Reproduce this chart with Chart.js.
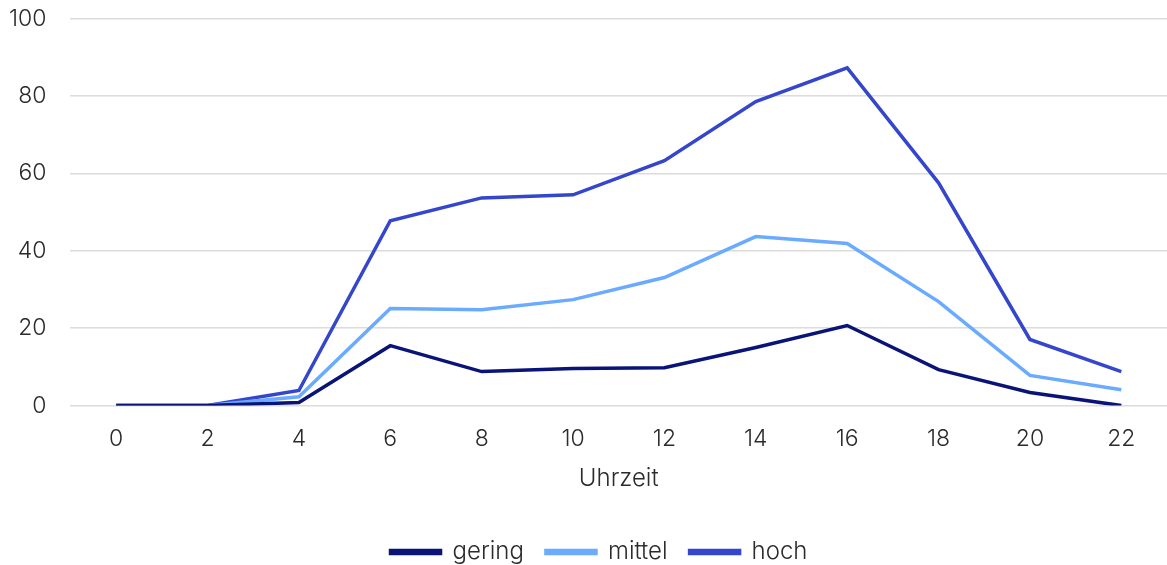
<!DOCTYPE html>
<html>
<head>
<meta charset="utf-8">
<script src="https://cdn.jsdelivr.net/npm/chart.js@4"></script>
<style>
  html, body { margin: 0; padding: 0; background: #fff; overflow: hidden; }
  #Wrap { width: 1167px; height: 584px; position: relative; margin-top: -19px; }
</style>
</head>
<body>
<div id="Wrap"><canvas id="Main_Chart"></canvas></div>
<script>
const Hours = ["0", "2", "4", "6", "8", "10", "12", "14", "16", "18", "20", "22"];
const Gering = [0, 0, 0.8, 15.5, 8.8, 9.6, 9.8, 15.0, 20.7, 9.3, 3.4, 0];
const Mittel = [0, 0, 2.3, 25.1, 24.8, 27.4, 33.1, 43.7, 41.9, 26.9, 7.8, 4.1];
const Hoch = [0, 0, 3.9, 47.8, 53.7, 54.5, 63.3, 78.6, 87.3, 57.6, 17.1, 8.8];
const Y_Ticks = [0, 20, 40, 60, 80, 100];

const Font_Family = "Inter, Lato, sans-serif";
const Text_Color = "#2b2b2b";
const Tick_Font = { family: Font_Family, size: 23, weight: 300 };
const Label_Font = { family: Font_Family, size: 24, weight: 300 };

function Make_Line(Label, Values, Color) {
    return {
        label: Label,
        data: Values,
        borderColor: Color,
        backgroundColor: Color,
        borderWidth: 3.5,
        pointRadius: 0,
        tension: 0,
        fill: false
    };
}

// nudge the legend row to the right so it sits under the plot centre
const Legend_Shift = {
    id: "legendShift",
    afterLayout: function (Chart_Obj) {
        const Lg = Chart_Obj.legend;
        if (!Lg) return;
        Lg.left += 23;
        Lg.right += 23;
    }
};

new Chart(document.getElementById("Main_Chart"), {
    type: "line",
    data: {
        labels: Hours,
        datasets: [
            Make_Line("gering", Gering, "#0a1478"),
            Make_Line("mittel", Mittel, "#6aabff"),
            Make_Line("hoch", Hoch, "#3447cc")
        ]
    },
    plugins: [Legend_Shift],
    options: {
        responsive: true,
        maintainAspectRatio: false,
        animation: false,
        layout: { padding: { left: -15, right: 0, top: 0, bottom: -9 } },
        scales: {
            x: {
                offset: true,
                grid: { display: false, drawTicks: false },
                border: { display: false },
                ticks: { color: Text_Color, font: Tick_Font, padding: 20 },
                title: {
                    display: true,
                    text: "Uhrzeit",
                    color: Text_Color,
                    font: Label_Font,
                    padding: { top: -9, bottom: 25 }
                }
            },
            y: {
                min: 0,
                max: 100,
                afterBuildTicks: function (Axis) {
                    Axis.ticks = Y_Ticks.map(function (V) { return { value: V }; });
                },
                grid: { color: "#dcdcdc", lineWidth: 1.5, drawTicks: false },
                border: { display: false },
                ticks: { color: Text_Color, font: Tick_Font, padding: 24 }
            }
        },
        plugins: {
            legend: {
                position: "bottom",
                labels: {
                    color: Text_Color,
                    font: Label_Font,
                    boxWidth: 50,
                    boxHeight: 3,
                    padding: 22
                }
            },
            tooltip: { enabled: false }
        }
    }
});
</script>
</body>
</html>
